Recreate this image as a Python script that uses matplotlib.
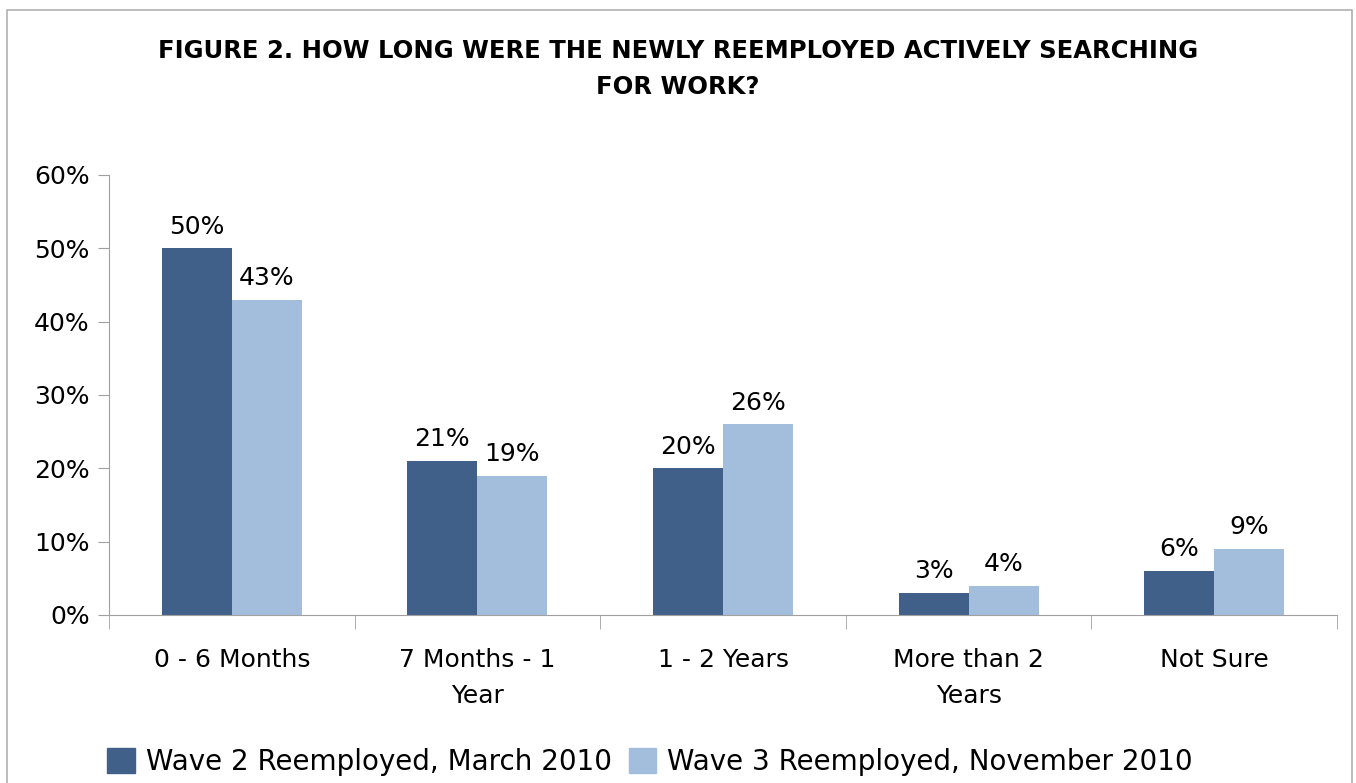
import matplotlib.pyplot as plt
import matplotlib.patches as mpatches
import numpy as np

# data
categories = ['0 - 6 Months', '7 Months - 1\nYear', '1 - 2 Years', 'More than 2\nYears', 'Not Sure']
wave2 = [50, 21, 20, 3, 6]
wave3 = [43, 19, 26, 4, 9]
series_names = ['Wave 2 Reemployed, March 2010', 'Wave 3 Reemployed, November 2010']
dark = '#416089'
light = '#A3BEDD'

plt.rcParams['font.family'] = ['DejaVu Sans']

fig = plt.figure(figsize=(13.56, 7.83), dpi=100)
ax = fig.add_axes([109 / 1356, 1 - 615 / 783, (1337 - 109) / 1356, (615 - 175) / 783])

x = np.arange(len(categories))
w = 0.285
b1 = ax.bar(x - w / 2, wave2, w, color=dark)
b2 = ax.bar(x + w / 2, wave3, w, color=light)

for bars, vals in ((b1, wave2), (b2, wave3)):
    for r, v in zip(bars, vals):
        ax.text(r.get_x() + r.get_width() / 2, v + 1.3, f'{v}%', ha='center', va='bottom', fontsize=18)

ax.set_xlim(-0.5, len(categories) - 0.5)
ax.set_ylim(0, 60)
ax.set_yticks(range(0, 61, 10))
ax.set_yticklabels([f'{t}%' for t in range(0, 61, 10)], fontsize=18)
ax.set_xticks(x)
ax.set_xticklabels(categories, fontsize=18, linespacing=1.6)
ax.tick_params(axis='x', length=0, pad=24)
ax.tick_params(axis='y', length=8, color='#A0A0A0', pad=6)
ax.set_xticks(np.arange(-0.5, len(categories), 1), minor=True)
ax.tick_params(axis='x', which='minor', length=10, color='#A0A0A0')
for s in ('top', 'right'):
    ax.spines[s].set_visible(False)
for s in ('left', 'bottom'):
    ax.spines[s].set_color('#A0A0A0')

fig.text(0.5, 1 - 69 / 783, 'FIGURE 2. HOW LONG WERE THE NEWLY REEMPLOYED ACTIVELY SEARCHING\nFOR WORK?',
         ha='center', va='center', fontsize=17.5, fontweight='bold', linespacing=1.65)

handles = [mpatches.Patch(color=dark, label=series_names[0]),
           mpatches.Patch(color=light, label=series_names[1])]
fig.legend(handles=handles, loc='center', bbox_to_anchor=(650 / 1356, 1 - 762 / 783), ncol=2,
           frameon=False, fontsize=20, handlelength=1.0, handleheight=1.0, handletextpad=0.4,
           columnspacing=0.6)

# outer frame
fig.add_artist(mpatches.Rectangle((7 / 1356, -0.05), (1352 - 7) / 1356, 1 - 10 / 783 + 0.05,
                                  transform=fig.transFigure, fill=False, edgecolor='#B0B0B0', lw=1.2))

fig.savefig('out.png', dpi=100)
